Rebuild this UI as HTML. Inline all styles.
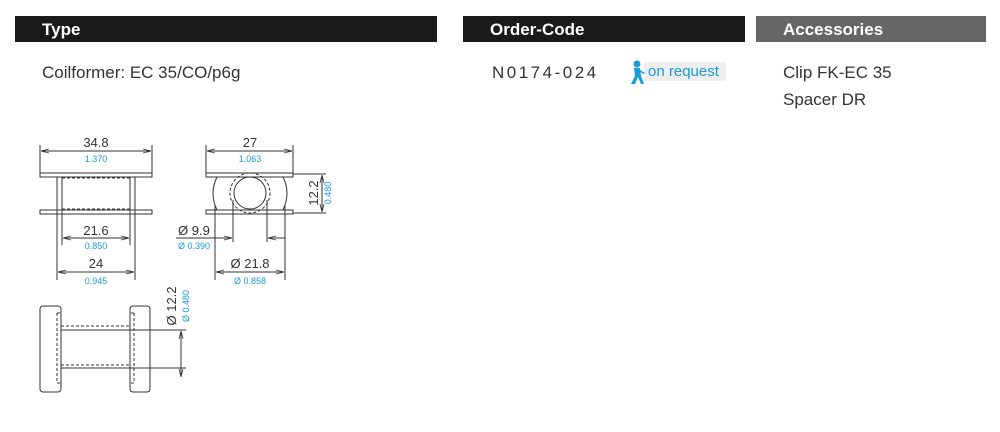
<!DOCTYPE html>
<html><head><meta charset="utf-8"><style>
body{margin:0;width:1000px;height:432px;background:#fff;position:relative;overflow:hidden;font-family:"Liberation Sans",sans-serif}
.bar{position:absolute;top:16px;height:26px;background:#1a1a1a;color:#fff;font-weight:bold;font-size:17px;line-height:28px;padding-left:27px;box-sizing:border-box}
.t{position:absolute;font-size:17px;color:#333}
</style></head><body>
<div class="bar" style="left:15px;width:422px">Type</div>
<div class="bar" style="left:463px;width:282px">Order-Code</div>
<div class="bar" style="left:756px;width:230px;background:#666">Accessories</div>
<div class="t" style="left:42px;top:63px">Coilformer: EC 35/CO/p6g</div>
<div class="t" style="left:492px;top:63px;letter-spacing:2.5px">N0174-024</div>
<div class="t" style="left:783px;top:63px">Clip FK-EC 35</div>
<div class="t" style="left:783px;top:90px">Spacer DR</div>
<div style="position:absolute;left:644px;top:62px;width:82px;height:19px;background:#eee;color:#1a9ad6;font-size:15px;line-height:19px;padding-left:4px;box-sizing:border-box">on request</div>
<svg style="position:absolute;left:628px;top:60px" width="18" height="26"><circle cx="9" cy="4" r="3.5" fill="#1a9ad6"/><path d="M6 8 L12 8 L13 16 L16 24 L13 24 L10 17 L7 24 L3 24 L7 16 Z M12 10 L17 13 L16 14 L12 12Z" fill="#1a9ad6"/></svg>
<svg style="position:absolute;left:0;top:0" width="1000" height="432" font-family="Liberation Sans, sans-serif">
<defs><marker id="a" markerWidth="8" markerHeight="6" refX="8" refY="3" orient="auto-start-reverse"><path d="M0,1 L8,3 L0,5" fill="none" stroke="#333" stroke-width="0.8"/></marker></defs>
<g stroke="#333" stroke-width="1" fill="none">
<rect x="40" y="173" width="112" height="4"/><rect x="40" y="210" width="112" height="4"/>
<path d="M57 177V280M62 177V245M130 177V245M135 177V280"/>
<path d="M62 178H130M62 209H130" stroke-dasharray="3,2"/>
<path d="M40 145V173M152 145V173"/>
<path d="M41 151H151" marker-start="url(#a)" marker-end="url(#a)"/>
<path d="M63 238H129" marker-start="url(#a)" marker-end="url(#a)"/>
<path d="M58 272H134" marker-start="url(#a)" marker-end="url(#a)"/>
<rect x="206" y="173" width="87" height="4"/><rect x="206" y="210" width="87" height="4"/>
<path d="M217 177Q209 193 217 210M283 177Q291 193 283 210"/>
<circle cx="250" cy="193" r="16"/><circle cx="250" cy="193" r="20" stroke-dasharray="3,2"/>
<path d="M206 145V173M293 145V173"/>
<path d="M207 151H292" marker-start="url(#a)" marker-end="url(#a)"/>
<path d="M293 174H326M293 213H326"/>
<path d="M322 175V212" marker-start="url(#a)" marker-end="url(#a)"/>
<path d="M233 200V242M267 200V242M215 205V280M285 205V280"/>
<path d="M176 238H232" marker-end="url(#a)"/><path d="M285 238H268" marker-end="url(#a)"/>
<path d="M216 272H284" marker-start="url(#a)" marker-end="url(#a)"/>
<rect x="40" y="306" width="21" height="86" rx="3"/><rect x="130" y="306" width="20" height="86" rx="3"/>
<path d="M57 313H61M57 313V383H61M134 313H130M134 313V383H130" stroke-dasharray="3,2"/>
<path d="M61 326H130M61 365H130" stroke-dasharray="3,2"/>
<path d="M61 330H186" /><path d="M61 368H186"/>
<path d="M181 331V377" marker-start="url(#a)" marker-end="url(#a)"/>
</g>
<g font-size="13" fill="#333" text-anchor="middle">
<text x="96" y="147">34.8</text><text x="96" y="235">21.6</text><text x="96" y="268">24</text>
<text x="250" y="147">27</text><text x="178" y="235" text-anchor="start">Ø 9.9</text><text x="250" y="268">Ø 21.8</text>
<text transform="translate(318,193) rotate(-90)">12.2</text>
<text transform="translate(176,306) rotate(-90)">Ø 12.2</text>
</g>
<g font-size="9" fill="#1a9ad6" text-anchor="middle">
<text x="96" y="162">1.370</text><text x="96" y="249">0.850</text><text x="96" y="284">0.945</text>
<text x="250" y="162">1.063</text><text x="178" y="249" text-anchor="start">Ø 0.390</text><text x="250" y="284">Ø 0.858</text>
<text transform="translate(331,193) rotate(-90)">0.480</text>
<text transform="translate(189,306) rotate(-90)">Ø 0.480</text>
</g>
</svg>
</body></html>
